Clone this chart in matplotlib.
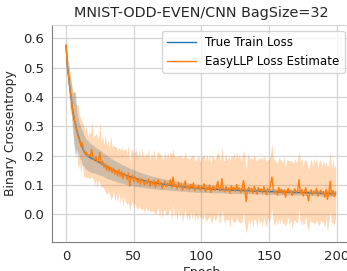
import numpy as np
import matplotlib
matplotlib.use('Agg')
import matplotlib.pyplot as plt

# true train loss (mean over runs) per epoch
true_loss = [
    0.575, 0.505, 0.462, 0.425, 0.390, 0.352, 0.325, 0.305, 0.285, 0.268,
    0.252, 0.240, 0.228, 0.218, 0.210, 0.204, 0.200, 0.196, 0.193, 0.190,
    0.188, 0.186, 0.183, 0.181, 0.179, 0.176, 0.174, 0.171, 0.168, 0.165,
    0.162, 0.160, 0.157, 0.155, 0.152, 0.150, 0.148, 0.146, 0.144, 0.142,
    0.140, 0.138, 0.136, 0.135, 0.133, 0.131, 0.130, 0.128, 0.127, 0.125,
    0.124, 0.122, 0.121, 0.120, 0.118, 0.117, 0.116, 0.115, 0.114, 0.113,
    0.112, 0.111, 0.110, 0.109, 0.108, 0.107, 0.107, 0.106, 0.105, 0.104,
    0.104, 0.103, 0.102, 0.102, 0.101, 0.100, 0.100, 0.099, 0.098, 0.098,
    0.097, 0.097, 0.096, 0.095, 0.095, 0.094, 0.094, 0.093, 0.093, 0.092,
    0.092, 0.091, 0.091, 0.090, 0.090, 0.089, 0.089, 0.088, 0.088, 0.088,
    0.088, 0.088, 0.087, 0.087, 0.087, 0.086, 0.086, 0.086, 0.086, 0.085,
    0.085, 0.085, 0.085, 0.084, 0.084, 0.084, 0.084, 0.083, 0.083, 0.083,
    0.083, 0.083, 0.082, 0.082, 0.082, 0.082, 0.082, 0.081, 0.081, 0.081,
    0.081, 0.081, 0.080, 0.080, 0.080, 0.080, 0.080, 0.080, 0.079, 0.079,
    0.079, 0.080, 0.079, 0.079, 0.078, 0.078, 0.078, 0.078, 0.078, 0.078,
    0.077, 0.077, 0.077, 0.077, 0.077, 0.077, 0.076, 0.076, 0.076, 0.076,
    0.076, 0.076, 0.075, 0.075, 0.075, 0.075, 0.075, 0.075, 0.074, 0.074,
    0.074, 0.074, 0.074, 0.074, 0.074, 0.073, 0.073, 0.073, 0.073, 0.073,
    0.073, 0.072, 0.072, 0.072, 0.073, 0.072, 0.072, 0.072, 0.071, 0.071,
    0.071, 0.071, 0.071, 0.071, 0.071, 0.070, 0.070, 0.070, 0.070, 0.070,
]
true_std = [
    0.003, 0.025, 0.035, 0.045, 0.050, 0.060, 0.095, 0.110, 0.065, 0.060,
    0.058, 0.055, 0.060, 0.052, 0.055, 0.050, 0.053, 0.048, 0.050, 0.047,
    0.048, 0.045, 0.046, 0.043, 0.044, 0.042, 0.043, 0.040, 0.041, 0.039,
    0.040, 0.038, 0.038, 0.036, 0.037, 0.035, 0.035, 0.034, 0.034, 0.033,
    0.033, 0.032, 0.032, 0.031, 0.031, 0.030, 0.030, 0.029, 0.029, 0.028,
    0.028, 0.027, 0.027, 0.026, 0.026, 0.025, 0.025, 0.024, 0.024, 0.023,
    0.023, 0.023, 0.022, 0.022, 0.021, 0.021, 0.021, 0.020, 0.020, 0.020,
    0.019, 0.019, 0.019, 0.018, 0.018, 0.018, 0.018, 0.017, 0.017, 0.017,
    0.017, 0.016, 0.016, 0.016, 0.016, 0.016, 0.015, 0.015, 0.015, 0.015,
    0.015, 0.015, 0.014, 0.014, 0.014, 0.014, 0.014, 0.014, 0.013, 0.013,
    0.013, 0.013, 0.013, 0.013, 0.013, 0.012, 0.012, 0.012, 0.012, 0.012,
    0.012, 0.012, 0.012, 0.012, 0.011, 0.011, 0.011, 0.011, 0.011, 0.011,
    0.011, 0.011, 0.011, 0.011, 0.011, 0.011, 0.011, 0.011, 0.011, 0.011,
    0.011, 0.011, 0.010, 0.010, 0.010, 0.010, 0.010, 0.010, 0.010, 0.010,
    0.010, 0.010, 0.010, 0.010, 0.010, 0.010, 0.010, 0.010, 0.010, 0.010,
    0.010, 0.010, 0.010, 0.010, 0.010, 0.010, 0.010, 0.010, 0.010, 0.010,
    0.010, 0.010, 0.010, 0.010, 0.010, 0.010, 0.009, 0.009, 0.009, 0.009,
    0.009, 0.009, 0.009, 0.009, 0.009, 0.009, 0.009, 0.009, 0.009, 0.009,
    0.009, 0.009, 0.009, 0.009, 0.009, 0.009, 0.009, 0.009, 0.009, 0.009,
    0.009, 0.009, 0.009, 0.009, 0.009, 0.009, 0.009, 0.009, 0.009, 0.009,
]
# EasyLLP loss estimate per epoch
est_loss = [
    0.578, 0.500, 0.468, 0.420, 0.395, 0.345, 0.330, 0.300, 0.290, 0.262,
    0.255, 0.232, 0.245, 0.215, 0.205, 0.212, 0.196, 0.203, 0.198, 0.222,
    0.192, 0.183, 0.196, 0.178, 0.186, 0.210, 0.170, 0.181, 0.160, 0.172,
    0.150, 0.166, 0.147, 0.160, 0.142, 0.158, 0.137, 0.150, 0.131, 0.152,
    0.128, 0.146, 0.121, 0.140, 0.132, 0.118, 0.141, 0.095, 0.126, 0.133,
    0.112, 0.128, 0.118, 0.107, 0.124, 0.102, 0.121, 0.110, 0.099, 0.117,
    0.104, 0.120, 0.095, 0.113, 0.101, 0.116, 0.091, 0.108, 0.118, 0.098,
    0.109, 0.087, 0.104, 0.112, 0.093, 0.106, 0.099, 0.118, 0.090, 0.127,
    0.095, 0.101, 0.086, 0.109, 0.092, 0.104, 0.081, 0.098, 0.114, 0.087,
    0.096, 0.083, 0.102, 0.090, 0.107, 0.079, 0.093, 0.086, 0.099, 0.082,
    0.095, 0.089, 0.104, 0.077, 0.092, 0.085, 0.100, 0.074, 0.088, 0.096,
    0.081, 0.093, 0.112, 0.084, 0.079, 0.121, 0.088, 0.076, 0.094, 0.083,
    0.089, 0.071, 0.097, 0.085, 0.092, 0.078, 0.101, 0.083, 0.090, 0.074,
    0.087, 0.115, 0.079, 0.043, 0.084, 0.092, 0.076, 0.089, 0.071, 0.095,
    0.082, 0.068, 0.091, 0.079, 0.086, 0.073, 0.094, 0.080, 0.066, 0.088,
    0.077, 0.104, 0.127, 0.084, 0.072, 0.080, 0.065, 0.091, 0.078, 0.085,
    0.070, 0.083, 0.058, 0.079, 0.088, 0.072, 0.081, 0.064, 0.076, 0.086,
    0.073, 0.080, 0.118, 0.071, 0.084, 0.062, 0.077, 0.090, 0.068, 0.046,
    0.075, 0.083, 0.066, 0.079, 0.071, 0.088, 0.061, 0.074, 0.082, 0.069,
    0.078, 0.058, 0.085, 0.050, 0.074, 0.112, 0.063, 0.081, 0.060, 0.076,
]
est_std = [
    0.004, 0.030, 0.050, 0.062, 0.058, 0.070, 0.090, 0.075, 0.085, 0.110,
    0.080, 0.095, 0.070, 0.088, 0.075, 0.090, 0.068, 0.082, 0.073, 0.095,
    0.070, 0.085, 0.078, 0.092, 0.068, 0.105, 0.080, 0.087, 0.074, 0.098,
    0.082, 0.090, 0.076, 0.110, 0.085, 0.079, 0.093, 0.081, 0.088, 0.077,
    0.090, 0.084, 0.097, 0.080, 0.092, 0.086, 0.100, 0.083, 0.095, 0.088,
    0.093, 0.087, 0.100, 0.089, 0.096, 0.085, 0.104, 0.090, 0.098, 0.092,
    0.095, 0.102, 0.088, 0.099, 0.093, 0.107, 0.091, 0.100, 0.096, 0.110,
    0.094, 0.103, 0.089, 0.100, 0.097, 0.106, 0.092, 0.099, 0.112, 0.095,
    0.101, 0.096, 0.108, 0.093, 0.103, 0.098, 0.111, 0.095, 0.100, 0.106,
    0.097, 0.104, 0.093, 0.109, 0.099, 0.102, 0.095, 0.107, 0.100, 0.096,
    0.103, 0.110, 0.098, 0.105, 0.112, 0.097, 0.106, 0.101, 0.115, 0.099,
    0.104, 0.108, 0.100, 0.118, 0.102, 0.110, 0.097, 0.106, 0.113, 0.101,
    0.108, 0.115, 0.103, 0.110, 0.120, 0.104, 0.112, 0.107, 0.117, 0.105,
    0.111, 0.104, 0.118, 0.108, 0.122, 0.106, 0.113, 0.102, 0.116, 0.109,
    0.105, 0.113, 0.101, 0.110, 0.107, 0.115, 0.103, 0.109, 0.112, 0.100,
    0.108, 0.102, 0.111, 0.106, 0.114, 0.099, 0.107, 0.103, 0.110, 0.098,
    0.105, 0.112, 0.100, 0.108, 0.096, 0.110, 0.103, 0.115, 0.099, 0.106,
    0.102, 0.109, 0.097, 0.113, 0.104, 0.100, 0.108, 0.095, 0.111, 0.103,
    0.099, 0.107, 0.094, 0.110, 0.102, 0.106, 0.097, 0.112, 0.100, 0.095,
    0.108, 0.101, 0.097, 0.111, 0.099, 0.104, 0.093, 0.109, 0.098, 0.090,
]

epochs = np.arange(len(true_loss))
true_loss = np.array(true_loss)
true_std = np.array(true_std)
est_loss = np.array(est_loss)
est_std = np.array(est_std)

fig = plt.figure(figsize=(3.47, 2.71), dpi=100)
ax = fig.add_axes([52.5 / 347, 29 / 271, 298 / 347, 217 / 271])

ax.plot(epochs, true_loss, color='tab:blue', lw=1.0, label='True Train Loss')
ax.fill_between(epochs, true_loss - true_std, true_loss + true_std,
                color='tab:blue', alpha=0.3, lw=0)
ax.plot(epochs, est_loss, color='tab:orange', lw=1.0, label='EasyLLP Loss Estimate')
ax.fill_between(epochs, est_loss - est_std, est_loss + est_std,
                color='tab:orange', alpha=0.3, lw=0)

ax.set_xlim(-10, 210)
ax.set_ylim(-0.095, 0.646)
ax.set_xticks([0, 50, 100, 150, 200])
ax.set_yticks([0.0, 0.1, 0.2, 0.3, 0.4, 0.5, 0.6])
ax.grid(True, color='#d4d4d4', lw=0.9)
ax.set_axisbelow(True)
ax.tick_params(length=0, labelsize=9.5, colors='#262626', pad=6)
for s in ['left', 'bottom']:
    ax.spines[s].set_color('#7f7f7f')
for s in ['top', 'right']:
    ax.spines[s].set_color('#d4d4d4')

ax.set_title('MNIST-ODD-EVEN/CNN BagSize=32', fontsize=10.4, color='#262626', pad=6)
ax.set_xlabel('Epoch', fontsize=9, color='#262626', labelpad=2)
ax.set_ylabel('Binary Crossentropy', fontsize=8.9, color='#262626')
ax.yaxis.set_label_coords(-0.119, 0.5)
ax.legend(loc='upper right', fontsize=8.6, framealpha=0.8, edgecolor='#cccccc',
          handlelength=2.4)

fig.savefig('out.png', dpi=100)
